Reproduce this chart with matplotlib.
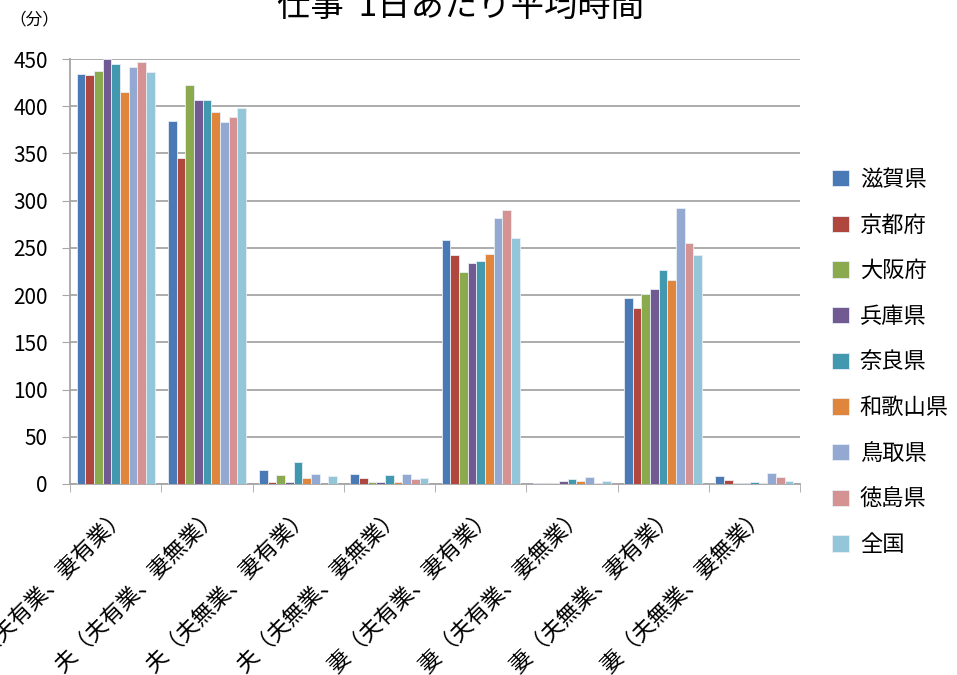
import numpy as np
import matplotlib
matplotlib.use("Agg")
import matplotlib.pyplot as plt

plt.rcParams['font.family'] = ['Noto Sans CJK JP', 'DejaVu Sans']

# Data (minutes per day)
categories = ["夫（夫有業、妻有業）", "夫（夫有業、妻無業）", "夫（夫無業、妻有業）", "夫（夫無業、妻無業）",
              "妻（夫有業、妻有業）", "妻（夫有業、妻無業）", "妻（夫無業、妻有業）", "妻（夫無業、妻無業）"]
prefs = ["滋賀県", "京都府", "大阪府", "兵庫県", "奈良県", "和歌山県", "鳥取県", "徳島県", "全国"]

shiga    = [434, 384, 15, 11, 258, 1, 197, 8]
kyoto    = [433, 345, 2, 6, 243, 1, 186, 4]
osaka    = [437, 422, 10, 2, 224, 1, 201, 1]
hyogo    = [450, 407, 2, 2, 234, 3, 206, 1]
nara     = [445, 407, 23, 10, 236, 5, 227, 2]
wakayama = [415, 394, 6, 2, 244, 3, 216, 1]
tottori  = [442, 383, 11, 11, 282, 7, 292, 12]
tokushima = [447, 389, 0, 5, 290, 1, 255, 7]
zenkoku  = [436, 398, 9, 6, 260, 3, 242, 3]

series = [shiga, kyoto, osaka, hyogo, nara, wakayama, tottori, tokushima, zenkoku]
colors = ['#4A7AB5', '#B0473F', '#8BAA4E', '#715A92', '#4198AF', '#E0863C',
          '#94A9D2', '#D49392', '#92C6D8']

fig = plt.figure(figsize=(9.57, 6.75), dpi=100)
ax = fig.add_axes([70 / 957, 1 - 484 / 675, 730 / 957, 425 / 675])

x = np.arange(len(categories))
width = 0.095
for i, (vals, col) in enumerate(zip(series, colors)):
    ax.bar(x + (i - 4) * width, vals, width, color=col, edgecolor='#E8EEF4',
           linewidth=0.6, label=prefs[i], zorder=3)

ax.set_xlim(-0.5, len(categories) - 0.5)
ax.set_ylim(0, 450)
ax.set_yticks(np.arange(0, 451, 50))
ax.grid(axis='y', color='#A6A6A6', linewidth=1.3, zorder=0)

for s in ['top', 'right']:
    ax.spines[s].set_visible(False)
ax.spines['left'].set_color('#A6A6A6')
ax.spines['bottom'].set_color('#A6A6A6')
ax.spines['left'].set_linewidth(1.3)
ax.spines['bottom'].set_linewidth(1.3)

ax.tick_params(axis='y', direction='out', length=6, color='#A6A6A6', labelsize=15, pad=10)
ax.set_xticks(x)
ax.set_xticklabels(categories, rotation=45, ha='right', rotation_mode='anchor', fontsize=16)
ax.tick_params(axis='x', which='major', length=0, pad=14)
ax.set_xticks(np.arange(-0.5, len(categories)), minor=True)
ax.tick_params(axis='x', which='minor', direction='out', length=6, color='#A6A6A6')

fig.text(0.01, 1 - 20 / 675, '（分）', fontsize=12, va='center', ha='left')
fig.text(461 / 957, 1 - 6 / 675, '仕事  1日あたり平均時間', fontsize=24, ha='center', va='center')

ax.legend(loc='center left', bbox_to_anchor=(832 / 957, 1 - 362 / 675), bbox_transform=fig.transFigure,
          frameon=False, fontsize=16, handlelength=0.75, handleheight=0.75,
          handletextpad=0.5, labelspacing=1.02, borderpad=0, borderaxespad=0)

fig.savefig('out.png', dpi=100)
